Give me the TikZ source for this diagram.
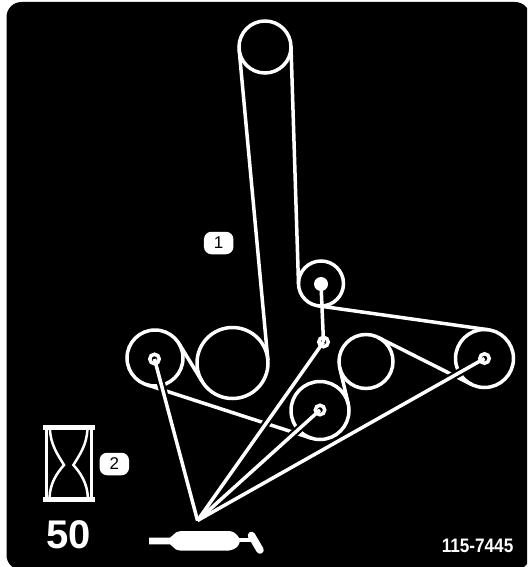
\documentclass[tikz,border=0pt]{standalone}
\usepackage{fontspec}
\setmainfont{Liberation Sans}
\usetikzlibrary{positioning, calc}

\begin{document}
\begin{tikzpicture}[x=1pt, y=-1pt,
        pulley/.style={circle, draw=white, line width=3.5pt, inner sep=0pt, outer sep=0pt},
        ring/.style={circle, draw=white, fill=black, line width=3.5pt, minimum size=9.5pt, inner sep=0pt, outer sep=0pt},
        belt/.style={draw=white, line width=3.5pt},
        halo/.style={draw=black, line width=8pt},
        grease/.style={draw=white, line width=3.5pt},
        tag/.style={rectangle, rounded corners=7.5pt, fill=white, text=black, minimum width=29.5pt, minimum height=22.5pt, inner sep=0pt, font=\fontsize{17}{17}\selectfont}]
        \clip (0,0) rectangle (527,567);
        \fill[white] (0,0) rectangle (527,567);
        \fill[black, rounded corners=15pt] (6.5,2) rectangle (530,570);

        % pulleys
        \node[pulley, minimum size=52pt] (top) at (265,47) {};
        \node[pulley, minimum size=45pt] (idl) at (321,283.5) {};
        \node[pulley, minimum size=56pt] (lft) at (155,358) {};
        \node[pulley, minimum size=71pt] (big) at (232.5,363) {};
        \node[pulley, minimum size=54pt] (mid) at (366,361.5) {};
        \node[pulley, minimum size=58pt] (low) at (320,410.5) {};
        \node[pulley, minimum size=58pt] (rgt) at (484.5,358.5) {};

        % belt
        \draw[belt] (top.185.3) -- (big.5.3);
        \draw[belt] (top.1.8) -- (idl.181.8);
        \draw[belt] (lft.31.5) -- (big.211.5);
        \draw[belt] (lft.252.4) -- (low.252.4);
        \draw[belt] (low.13.2) -- (mid.193.2);
        \draw[belt] (mid.63.2) -- (rgt.243.2);
        \draw[belt] (idl.262) -- (rgt.82);

        % grease lines
        \coordinate (tip) at (197.5,520.5);
        \coordinate (a) at (154.5,359);
        \coordinate (b) at (323.5,342);
        \coordinate (c) at (320,410);
        \coordinate (d) at (484.5,358.5);
        \foreach \f in {a,b,c,d}
            \draw[halo] (\f) -- (tip);
        \foreach \f in {a,b,c,d}
            \node[ring] (fit\f) at (\f) {};
        \node[circle, fill=white, minimum size=14pt, inner sep=0pt] (dot) at (321,284) {};
        \foreach \f in {a,b,c,d}
            \draw[grease] (fit\f.center) -- (tip);
        \draw[grease] (dot.center) -- (fitb.center);

        % grease gun
        \fill[white] (149,537.7) -- (170,537.7) -- (176,532.5) [rounded corners=3pt] -- (179,531) -- (232,531) [rounded corners=5pt] -- (240,537) -- (240,545) -- (232,550.7) [rounded corners=3pt] -- (179,550.7) [sharp corners] -- (176,549.5) -- (170,544.3) -- (149,544.3) -- cycle;
        \fill[white] (238,537.5) -- (251,537.5) -- (251,542) -- (238,542) -- cycle;
        \draw[white, line width=7.5pt, line cap=round] (251.5,535.5) -- (260,550);

        % hourglass
        \fill[white] (42.7,425) rectangle (94.7,429.7);
        \fill[white] (42.7,496.7) rectangle (94.7,501.7);
        \draw[white, line width=3pt] (46,428) -- (46,498);
        \draw[white, line width=3pt] (91.7,428) -- (91.7,498);
        \draw[white, line width=2.5pt] (50,429) .. controls (50.5,445) and (58,455) .. (64,465) .. controls (57,473) and (50,483) .. (49.5,498);
        \draw[white, line width=2.5pt] (87.4,429) .. controls (86.9,445) and (79.4,455) .. (73.4,465) .. controls (80.4,473) and (87.4,483) .. (87.9,498);

        % labels
        \node[tag] (one) at (218.7,243) {1};
        \node[tag] (two) at (114.3,464) {2};
        \node[text=white, font=\fontsize{40}{40}\selectfont\bfseries] (time) at (69,535) {50};
        \node[text=white, font=\fontsize{19.5}{19.5}\selectfont\bfseries, anchor=east, inner sep=0pt, xscale=.88, transform shape] (part) at (513.5,545.5) {115-7445};
    \end{tikzpicture}
\end{document}
